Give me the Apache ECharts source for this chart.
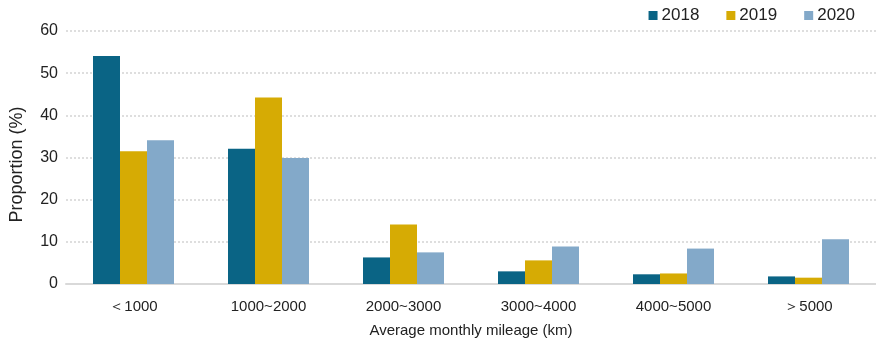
<!DOCTYPE html>
<html>
<head>
<meta charset="utf-8">
<script src="https://cdn.jsdelivr.net/npm/echarts@6/dist/echarts.min.js"></script>
<style>
  html, body { margin: 0; padding: 0; background: #fff; }
  #chart { width: 876px; height: 345px; }
</style>
</head>
<body>
<div id="chart"></div>
<script>
const categories = ['＜1000', '1000~2000', '2000~3000', '3000~4000', '4000~5000', '＞5000'];
const years = ['2018', '2019', '2020'];
const values2018 = [54.1, 32.1, 6.3, 3.0, 2.3, 1.8];
const values2019 = [31.5, 44.2, 14.1, 5.6, 2.5, 1.5];
const values2020 = [34.1, 29.9, 7.5, 8.9, 8.4, 10.6];
const yTicks = [0, 10, 20, 30, 40, 50, 60];

const colors = ['#0a6485', '#d6ab04', '#83a9c9'];
const font = 'Liberation Sans, Arial, sans-serif';

const chart = echarts.init(document.getElementById('chart'));

const seriesData = [values2018, values2019, values2020];

chart.setOption({
  animation: false,
  color: colors,
  textStyle: { fontFamily: font },
  legend: {
    data: years,
    right: 16,
    top: 2,
    icon: 'rect',
    itemWidth: 9,
    itemHeight: 9,
    itemGap: 27,
    textStyle: { fontSize: 17, color: '#222', fontFamily: font, padding: [0, 0, 0, -1] }
  },
  grid: { left: 66, right: 0, top: 31, bottom: 61 },
  xAxis: {
    type: 'category',
    data: categories,
    name: 'Average monthly mileage (km)',
    nameLocation: 'middle',
    nameGap: 39,
    nameTextStyle: { fontSize: 15, color: '#222', fontFamily: font },
    axisLine: { lineStyle: { color: '#d9d9d9', width: 2 } },
    axisTick: { show: false },
    axisLabel: { fontSize: 15, color: '#222', margin: 15, fontFamily: font }
  },
  yAxis: {
    type: 'value',
    min: yTicks[0],
    max: yTicks[yTicks.length - 1],
    interval: 10,
    name: 'Proportion (%)',
    nameLocation: 'middle',
    nameGap: 40,
    nameTextStyle: { fontSize: 18, color: '#222', fontFamily: font, padding: [0, 14, 0, 0] },
    axisLine: { show: false },
    axisTick: { show: false },
    axisLabel: { fontSize: 16, color: '#222', margin: 8, fontFamily: font },
    splitLine: { lineStyle: { color: '#d4d4d4', type: [2, 2], width: 1.5 } }
  },
  series: years.map((y, i) => ({
    name: y,
    type: 'bar',
    data: seriesData[i],
    barGap: '0%',
    barCategoryGap: '40%'
  }))
});
</script>
</body>
</html>
